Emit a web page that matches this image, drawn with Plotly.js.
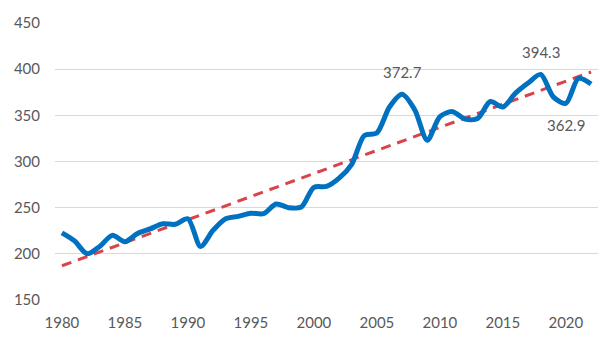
<!DOCTYPE html>
<html>
<head>
<meta charset="utf-8">
<script src="https://cdn.plot.ly/plotly-3.0.1.min.js"></script>
<style>html,body{margin:0;padding:0;background:#fff;}#chart{width:616px;height:358px;}</style>
</head>
<body>
<div id="chart"></div>
<script>
const years = [1980,1981,1982,1983,1984,1985,1986,1987,1988,1989,1990,1991,1992,1993,1994,1995,1996,1997,1998,1999,2000,2001,2002,2003,2004,2005,2006,2007,2008,2009,2010,2011,2012,2013,2014,2015,2016,2017,2018,2019,2020,2021,2022];
const values = [222.7,214,200,208,220,213,222,227,232.5,232,238,208,225.5,238,240.6,244,243.5,254,250,250.7,272,273,282,297,328,331,359,372.7,356,323,348.6,354,346,346.5,365,359,374,385,394.3,370,362.9,390,384];
const labelYears = [2007, 2018, 2020];
const labelPos = ['top', 'top', 'bottom'];
const yTicks = [150,200,250,300,350,400,450];
const xTicks = [1980,1985,1990,1995,2000,2005,2010,2015,2020];

// linear trend computed from the data
const n = years.length;
const mx = years.reduce((a,b)=>a+b,0)/n;
const my = values.reduce((a,b)=>a+b,0)/n;
let sxy=0, sxx=0;
for (let i=0;i<n;i++){sxy+=(years[i]-mx)*(values[i]-my); sxx+=(years[i]-mx)*(years[i]-mx);}
const slope = sxy/sxx, icpt = my - slope*mx;
const trend = years.map(y => icpt + slope*y);

const font = {family: 'Lato, "Open Sans", sans-serif', size: 15, color: '#595959'};

const annotations = labelYears.map((yr, k) => {
  const i = years.indexOf(yr);
  return {
    x: yr, y: values[i], xref: 'x', yref: 'y',
    text: values[i].toFixed(1), showarrow: false,
    yshift: labelPos[k] === 'top' ? 22 : -22,
    font: font
  };
});

const data = [
  {x: years, y: trend, type: 'scatter', mode: 'lines',
   line: {color: '#D9434A', width: 3, dash: '10px,7px'}, hoverinfo: 'skip'},
  {x: years, y: values, type: 'scatter', mode: 'lines',
   line: {color: '#0070C0', width: 5, shape: 'spline', smoothing: 0.8}}
];

const layout = {
  width: 616, height: 358,
  margin: {l: 55, r: 18, t: 23, b: 58},
  paper_bgcolor: '#fff', plot_bgcolor: '#fff',
  showlegend: false,
  font: font,
  xaxis: {range: [1979.45, 2022.55], tickvals: xTicks, ticktext: xTicks.map(String),
          showgrid: false, zeroline: false, showline: false, ticks: '',
          tickfont: font, ticklabelstandoff: 12},
  yaxis: {range: [150, 450], tickvals: yTicks, ticktext: yTicks.map(String),
          showgrid: true, gridcolor: '#d9d9d9', gridwidth: 1, zeroline: false,
          showline: false, ticks: '', tickfont: font, ticklabelstandoff: 14},
  annotations: annotations
};

Plotly.newPlot('chart', data, layout, {displayModeBar: false, staticPlot: true});
</script>
</body>
</html>
